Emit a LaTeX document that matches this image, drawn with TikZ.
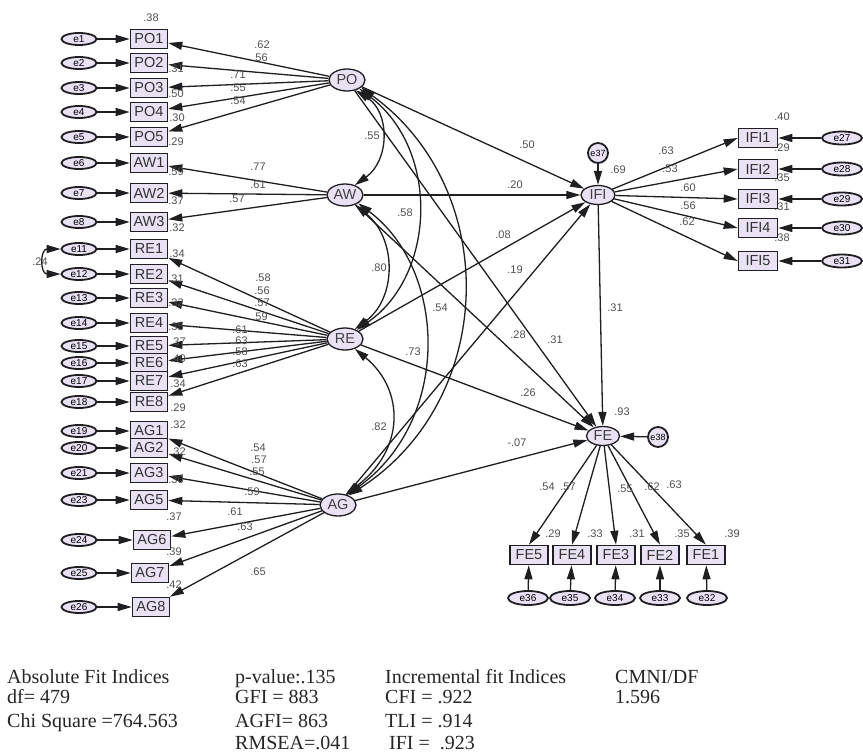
\documentclass[tikz,border=0pt]{standalone}
\usepackage{fontspec}
\setmainfont{Liberation Sans}
\newfontfamily\serifB{Liberation Serif}
\usetikzlibrary{arrows.meta,shapes.geometric}
\definecolor{lav}{RGB}{234,226,244}
\definecolor{edgec}{RGB}{30,30,35}
\definecolor{numc}{RGB}{80,80,80}
\tikzset{
 obs/.style={draw=edgec, line width=1.6pt, fill=lav, minimum width=37pt, minimum height=19pt, inner sep=0pt, font=\fontsize{14.5}{14.5}\selectfont, text=black!80},
 lat/.style={ellipse, draw=edgec, line width=1.3pt, fill=lav, minimum width=36pt, minimum height=22pt, inner sep=0pt, font=\fontsize{14.5}{14.5}\selectfont, text=black!75},
 err/.style={ellipse, draw=edgec, line width=1.8pt, fill=lav, minimum width=35pt, minimum height=12pt, inner sep=0pt, font=\fontsize{10}{10}\selectfont},
 errc/.style={circle, draw=edgec, line width=1.8pt, fill=lav, minimum size=20pt, inner sep=0pt, font=\fontsize{9}{9}\selectfont},
 num/.style={font=\fontsize{11}{11}\selectfont, text=numc, inner sep=0pt},
 arr/.style={draw=edgec, line width=1.3pt, -{Triangle[length=14pt,width=8pt]}},
 cov/.style={draw=edgec, line width=1.3pt, {Triangle[length=14pt,width=8pt]}-{Triangle[length=14pt,width=8pt]}},
 fittext/.style={font=\serifB\fontsize{20}{20}\selectfont, anchor=base west, inner sep=0pt, text=black!85}
}
\begin{document}
\begin{tikzpicture}[x=1pt,y=1pt]
\useasboundingbox (0,0) rectangle (863,-755);
\fill[white] (0,0) rectangle (863,-755);

% latent variables
\node[lat] (PO) at (347,-80) {PO};
\node[lat] (AW) at (345,-195) {AW};
\node[lat] (RE) at (345,-339) {RE};
\node[lat] (AG) at (338,-505) {AG};
\node[lat, minimum width=34pt, minimum height=19pt] (IFI) at (598,-195) {IFI};
\node[lat, minimum width=33pt, minimum height=19pt] (FE) at (603,-436) {FE};

% left indicators and errors
\foreach \n/\y/\e/\x in {PO1/39/e1/149, PO2/63/e2/149, PO3/88/e3/149, PO4/112/e4/149, PO5/137/e5/149,
  AW1/163/e6/149, AW2/193/e7/149, AW3/222/e8/149,
  RE1/249/e11/149, RE2/274/e12/149, RE3/298/e13/149, RE4/323/e14/149, RE5/346/e15/149, RE6/363/e16/149, RE7/381/e17/149, RE8/402/e18/149,
  AG1/431/e19/149, AG2/448/e20/149, AG3/473/e21/149, AG5/500/e23/149, AG6/540/e24/152, AG7/573/e25/150, AG8/607/e26/151}{
  \node[obs] (\n) at (\x,-\y) {\n};
  \node[err] (\e) at (79,-\y) {\e};
  \draw[arr] (\e) -- (\n);
}

% right indicators (IFI)
\foreach \n/\y/\e in {IFI1/138/e27, IFI2/169/e28, IFI3/199/e29, IFI4/228/e30, IFI5/261/e31}{
  \node[obs, minimum width=39pt] (\n) at (758,-\y) {\n};
  \node[err, minimum width=40pt, minimum height=13pt] (\e) at (842,-\y) {\e};
  \draw[arr] (\e) -- (\n);
  \draw[arr] (IFI) -- (\n.west);
}

% bottom indicators (FE)
\foreach \n/\x/\e/\ex in {FE5/529/e36/528, FE4/572/e35/570, FE3/616/e34/615, FE2/660/e33/660, FE1/706/e32/707}{
  \node[obs, minimum width=38pt] (\n) at (\x,-555) {\n};
  \node[err, minimum width=40pt, minimum height=14pt] (\e) at (\ex,-598) {\e};
  \draw[arr] (\e) -- (\n);
  \draw[arr] (FE) -- (\n.north);
}

% disturbances
\node[errc] (e37) at (598,-153) {e37};
\node[errc] (e38) at (658,-437) {e38};
\draw[arr] (e37) -- (IFI);
\draw[arr] (e38) -- (FE);

% loadings
\foreach \n in {PO1,PO2,PO3,PO4,PO5} \draw[arr] (PO) -- (\n);
\foreach \n in {AW1,AW2,AW3} \draw[arr] (AW) -- (\n);
\foreach \n in {RE1,RE2,RE3,RE4,RE5,RE6,RE7,RE8} \draw[arr] (RE) -- (\n);
\foreach \n in {AG1,AG2,AG3,AG5,AG6,AG7,AG8} \draw[arr] (AG) -- (\n);

% structural paths
\draw[arr] (PO) -- (IFI);
\draw[arr] (AW) -- (IFI);
\draw[arr] (RE) -- (IFI);
\draw[arr] (AG) -- (IFI);
\draw[arr] (PO) -- (FE);
\draw[arr] (AW) -- (FE);
\draw[arr] (RE) -- (FE);
\draw[arr] (AG) -- (FE);
\draw[arr] (IFI) -- (FE);

% covariances
\draw[cov] (PO.-50) .. controls (390,-112) and (390,-160) .. (AW.45);
\draw[cov] (PO.-35) .. controls (440,-150) and (436,-275) .. (RE.38);
\draw[cov] (PO.-28) .. controls (502,-190) and (497,-400) .. (AG.42);
\draw[cov] (AW.-45) .. controls (397,-238) and (397,-298) .. (RE.45);
\draw[cov] (AW.-32) .. controls (447,-270) and (452,-420) .. (AG.48);
\draw[cov] (RE.-45) .. controls (405,-390) and (405,-450) .. (AG.55);
\draw[cov] (e11.west) .. controls (40,-249) and (40,-274) .. (e12.west);

% loading labels
\foreach \t/\x/\y [count=\i] in {.62/262/45, .56/260/58, .71/238/75, .55/238/88, .54/238/101,
  .77/258/167, .61/258/185, .57/237/199,
  .58/263/278, .56/262/291, .57/262/303, .59/260/317, .61/240/330, .63/240/341, .58/240/352, .63/240/364,
  .54/258/448, .57/259/460, .55/257/472, .59/252/492, .61/235/512, .63/245/527, .65/258/572}{
  \node[num] (ll\i) at (\x,-\y) {\t};
}

% squared multiple correlations (left)
\foreach \t/\x/\y [count=\i] in {.38/151/18, .31/176/69, .50/176/94, .30/177/118, .29/176/142,
  .59/176/172, .37/176/201, .32/177/228,
  .34/177/254, .31/176/279, .32/176/303, .35/176/327, .37/178/342, .40/178/359, .34/178/384, .29/178/408,
  .32/178/425, .32/178/452, .30/176/480, .37/174/517, .39/174/552, .42/174/585}{
  \node[num] (rl\i) at (\x,-\y) {\t};
}
\node[num] (cov24) at (40,-262) {.24};

% covariance labels
\node[num] (c1) at (372,-136) {.55};
\node[num] (c2) at (405,-213) {.58};
\node[num] (c3) at (440,-308) {.54};
\node[num] (c4) at (379,-268) {.80};
\node[num] (c5) at (413,-352) {.73};
\node[num] (c6) at (379,-427) {.82};

% structural labels
\node[num] (s1) at (527,-145) {.50};
\node[num] (s2) at (515,-185) {.20};
\node[num] (s3) at (503,-235) {.08};
\node[num] (s4) at (515,-270) {.19};
\node[num] (s5) at (615,-308) {.31};
\node[num] (s6) at (518,-335) {.28};
\node[num] (s7) at (555,-340) {.31};
\node[num] (s8) at (528,-393) {.26};
\node[num] (s9) at (517,-443) {-.07};
\node[num] (r1) at (618,-170) {.69};
\node[num] (r2) at (622,-412) {.93};

% IFI labels
\foreach \t/\x/\y [count=\i] in {.63/666/151, .53/670/169, .60/688/188, .56/688/206, .62/687/222}{
  \node[num] (il\i) at (\x,-\y) {\t};
}
\foreach \t/\x/\y [count=\i] in {.40/782/117, .29/782/148, .35/782/178, .31/782/207, .38/782/238}{
  \node[num] (ir\i) at (\x,-\y) {\t};
}
% FE labels
\foreach \t/\x/\y [count=\i] in {.54/547/487, .57/568/487, .55/625/489, .62/652/487, .63/674/485}{
  \node[num] (fl\i) at (\x,-\y) {\t};
}
\foreach \t/\x/\y [count=\i] in {.29/553/534, .33/595/534, .31/637/534, .35/682/534, .39/732/534}{
  \node[num] (fr\i) at (\x,-\y) {\t};
}

% fit indices
\node[fittext] (t1) at (7,-683) {Absolute Fit Indices};
\node[fittext] (t2) at (7,-703) {df= 479};
\node[fittext] (t3) at (7,-727) {Chi Square =764.563};
\node[fittext] (t4) at (235,-683) {p-value:.135};
\node[fittext] (t5) at (235,-703) {GFI = 883};
\node[fittext] (t6) at (235,-727) {AGFI= 863};
\node[fittext] (t7) at (235,-749) {RMSEA=.041};
\node[fittext] (t8) at (385,-683) {Incremental fit Indices};
\node[fittext] (t9) at (385,-703) {CFI = .922};
\node[fittext] (t10) at (385,-727) {TLI = .914};
\node[fittext] (t11) at (389,-749) {IFI =\ \ .923};
\node[fittext] (t12) at (615,-683) {CMNI/DF};
\node[fittext] (t13) at (615,-703) {1.596};
\end{tikzpicture}
\end{document}
